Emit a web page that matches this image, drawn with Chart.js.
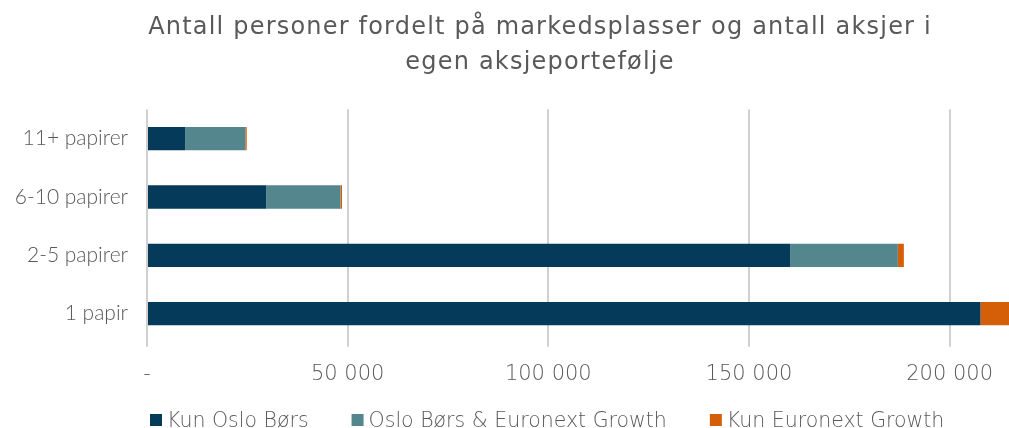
<!DOCTYPE html>
<html>
<head>
<meta charset="utf-8">
<script src="https://cdn.jsdelivr.net/npm/chart.js@4/dist/chart.umd.min.js"></script>
<style>
	html,body{margin:0;padding:0;background:#fff;}
	#wrap{width:1009px;height:428px;position:relative;}
</style>
</head>
<body>
<div id="wrap"><canvas id="barChart"></canvas></div>
<script>
//kategorier (fra topp til bunn)
var categories=["11+ papirer","6-10 papirer","2-5 papirer","1 papir"];
//serier
var kunOslo=[9500,29700,160300,207700];
var osloOgGrowth=[15000,18500,26800,0];
var kunGrowth=[350,400,1500,7100];
//tick verdier paa x-aksen
var xTicks=[0,50000,100000,150000,200000];
var xMax=214800;

var textGray="#595959";
var wideFont="'DejaVu Sans'";

//tall med mellomrom som tusenskille
function formatTick(v){
	if(v===0){
		return "-";
	}
	return String(v).replace(/\B(?=(\d{3})+(?!\d))/g," ");
}

//flytt tittelen litt mot hoyre og gi den litt sperring
var titleTweak={
	id:"titleTweak",
	afterLayout:function(chart){
		var t=chart.titleBlock;
		if(!t){
			return;
		}
		t.left=71;
		if(!t._spaced){
			var origDraw=t.draw;
			t.draw=function(){
				var ctx=chart.ctx;
				ctx.save();
				ctx.letterSpacing="1.2px";
				origDraw.apply(this,arguments);
				ctx.restore();
			};
			t._spaced=true;
		}
	}
};

//egen legende nederst, tegnet paa canvas
var bottomLegend={
	id:"bottomLegend",
	afterDraw:function(chart){
		var ctx=chart.ctx;
		var x=150;
		var baseY=427;
		ctx.save();
		ctx.font="200 20.5px "+wideFont;
		ctx.textBaseline="alphabetic";
		ctx.textAlign="left";
		chart.data.datasets.forEach(function(ds){
			ctx.fillStyle=ds.backgroundColor;
			ctx.fillRect(x,baseY-13,12,12);
			x+=17;
			ctx.fillStyle=textGray;
			ctx.fillText(ds.label,x,baseY);
			x+=ctx.measureText(ds.label).width+43;
		});
		ctx.restore();
	}
};

var initBarChart=function(){
	var ctx=document.getElementById("barChart").getContext("2d");
	var data={
		labels:categories,
		datasets:[
			{label:"Kun Oslo Børs",data:kunOslo,backgroundColor:"#053A5B"},
			{label:"Oslo Børs & Euronext Growth",data:osloOgGrowth,backgroundColor:"#53878D"},
			{label:"Kun Euronext Growth",data:kunGrowth,backgroundColor:"#D45F08"}
		]
	};
	var myBarChart=new Chart(ctx,{
		type:"bar",
		data:data,
		plugins:[titleTweak,bottomLegend],
		options:{
			indexAxis:"y",
			responsive:true,
			maintainAspectRatio:false,
			animation:false,
			datasets:{
				bar:{categoryPercentage:1,barPercentage:0.4,borderSkipped:false}
			},
			layout:{padding:{left:8,right:0,top:0,bottom:26}},
			plugins:{
				title:{
					display:true,
					text:["Antall personer fordelt på markedsplasser og antall aksjer i","egen aksjeportefølje"],
					color:textGray,
					font:{family:wideFont,size:24,weight:"normal",lineHeight:35/24},
					padding:{top:10,bottom:29.5}
				},
				legend:{display:false},
				tooltip:{enabled:false}
			},
			scales:{
				x:{
					stacked:true,
					min:0,
					max:xMax,
					afterBuildTicks:function(axis){
						axis.ticks=xTicks.map(function(v){return {value:v};});
					},
					grid:{color:"#D0D0D0",lineWidth:2,tickLength:4,drawTicks:true},
					border:{display:false},
					ticks:{
						color:textGray,
						font:{family:wideFont,size:21,weight:200},
						padding:15,
						maxRotation:0,
						callback:function(v){return formatTick(v);}
					}
				},
				y:{
					stacked:true,
					grid:{display:false},
					border:{display:false},
					afterFit:function(scale){
						//plottet starter ved x=147
						scale.width=147-8;
					},
					ticks:{
						color:textGray,
						font:{family:"Lato",size:21,weight:300},
						padding:11
					}
				}
			}
		}
	});
};

//tegn diagrammet
initBarChart();
</script>
</body>
</html>
